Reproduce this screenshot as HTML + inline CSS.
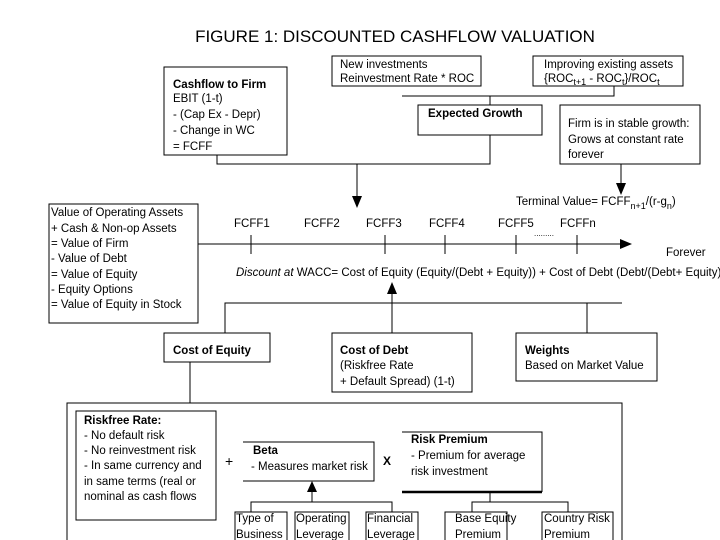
<!DOCTYPE html>
<html><head><style>
html,body{margin:0;padding:0;background:#fff;}
svg{display:block;}
text{font-family:"Liberation Sans",Arial,sans-serif;font-size:11.5px;fill:#000;}
.b{font-weight:bold;}
</style></head><body>
<svg width="720" height="540" viewBox="0 0 720 540" xmlns="http://www.w3.org/2000/svg">
<g fill="none" stroke="#000" stroke-width="1">
<text x="395" y="42" text-anchor="middle" style="font-size:17px" stroke="none">FIGURE 1: DISCOUNTED CASHFLOW VALUATION</text>
<rect x="164" y="67" width="123" height="88"/>
<rect x="332" y="56" width="149" height="30"/>
<rect x="533" y="56" width="150" height="30"/>
<path d="M402 96H614V86M490 96V105"/>
<rect x="418" y="105" width="124" height="30"/>
<rect x="560" y="105" width="140" height="59"/>
<path d="M217 155V164H490V135M357 164V198M621 164V186"/>
<rect x="49" y="204" width="149" height="119"/>
<path d="M198 244H622M251 235V254M385 235V254M445 235V254M516 235V254M577 235V254"/>
<path d="M392 333V292M225 333V303H622M587 303V333"/>
<rect x="164" y="333" width="106" height="29"/>
<rect x="332" y="333" width="140" height="59"/>
<rect x="516" y="333" width="141" height="48"/>
<path d="M190 362V403"/>
<rect x="67" y="403" width="555" height="150"/>
<rect x="76" y="411" width="140" height="109"/>
<path d="M243 442H374V481H243"/>
<path d="M402 432H542V492"/>
<path d="M402 492H542" stroke-width="2.5"/>
<path d="M312 502V490M251 512V502H392V512"/>
<path d="M490 492V502M472 512V502H568V512"/>
<rect x="235" y="512" width="52" height="40"/>
<rect x="295" y="512" width="54" height="40"/>
<rect x="366" y="512" width="52" height="40"/>
<rect x="445" y="512" width="62" height="40"/>
<rect x="542" y="512" width="71" height="40"/>
</g>
<g fill="#000">
<path d="M352 196H362L357 208Z"/>
<path d="M616 183H626L621 195Z"/>
<path d="M620 239V249L632 244Z"/>
<path d="M387 294H397L392 282Z"/>
<path d="M307 492H317L312 481Z"/>
</g>
<text x="173" y="88" class="b">Cashflow to Firm</text>
<text x="173" y="102">EBIT (1-t)</text>
<text x="173" y="118">- (Cap Ex - Depr)</text>
<text x="173" y="134">- Change in WC</text>
<text x="173" y="150">= FCFF</text>
<text x="340" y="68">New investments</text>
<text x="340" y="82">Reinvestment Rate * ROC</text>
<text x="544" y="68">Improving existing assets</text>
<text x="544" y="82">{ROC<tspan style="font-size:9px" dy="3">t+1</tspan><tspan dy="-3"> - ROC</tspan><tspan style="font-size:9px" dy="3">t</tspan><tspan dy="-3">}/ROC</tspan><tspan style="font-size:9px" dy="3">t</tspan></text>
<text x="428" y="117" class="b">Expected Growth</text>
<text x="568" y="127">Firm is in stable growth:</text>
<text x="568" y="143">Grows at constant rate</text>
<text x="568" y="158">forever</text>
<text x="516" y="205">Terminal Value= FCFF<tspan style="font-size:9px" dy="4">n+1</tspan><tspan dy="-4">/(r-g</tspan><tspan style="font-size:9px" dy="4">n</tspan><tspan dy="-4">)</tspan></text>
<text x="51" y="216">Value of Operating Assets</text>
<text x="51" y="232">+ Cash &amp; Non-op Assets</text>
<text x="51" y="247">= Value of Firm</text>
<text x="51" y="262">- Value of Debt</text>
<text x="51" y="278">= Value of Equity</text>
<text x="51" y="293">- Equity Options</text>
<text x="51" y="308">= Value of Equity in Stock</text>
<text x="234" y="227">FCFF1</text>
<text x="304" y="227">FCFF2</text>
<text x="366" y="227">FCFF3</text>
<text x="429" y="227">FCFF4</text>
<text x="498" y="227">FCFF5</text>
<text x="560" y="227">FCFFn</text>
<text x="534" y="236" style="font-size:8px">.........</text>
<text x="666" y="256">Forever</text>
<text x="236" y="276"><tspan font-style="italic">Discount at</tspan>  WACC= Cost of Equity (Equity/(Debt + Equity)) + Cost of Debt (Debt/(Debt+ Equity))</text>
<text x="173" y="354" class="b">Cost of Equity</text>
<text x="340" y="354" class="b">Cost of Debt</text>
<text x="340" y="369">(Riskfree Rate</text>
<text x="340" y="385">+ Default Spread) (1-t)</text>
<text x="525" y="354" class="b">Weights</text>
<text x="525" y="369">Based on Market Value</text>
<text x="84" y="424" class="b">Riskfree Rate:</text>
<text x="84" y="439">- No default risk</text>
<text x="84" y="454">- No reinvestment risk</text>
<text x="84" y="469">- In same currency and</text>
<text x="84" y="485">in same terms (real or</text>
<text x="84" y="500">nominal as cash flows</text>
<text x="225" y="466" style="font-size:14px">+</text>
<text x="253" y="454" class="b">Beta</text>
<text x="251" y="470">- Measures market risk</text>
<text x="383" y="465" class="b" style="font-size:12px">X</text>
<text x="411" y="443" class="b">Risk Premium</text>
<text x="411" y="459">- Premium for average</text>
<text x="411" y="475">risk investment</text>
<text x="236" y="522">Type of</text>
<text x="236" y="538">Business</text>
<text x="296" y="522">Operating</text>
<text x="296" y="538">Leverage</text>
<text x="367" y="522">Financial</text>
<text x="367" y="538">Leverage</text>
<text x="455" y="522">Base Equity</text>
<text x="455" y="538">Premium</text>
<text x="544" y="522">Country Risk</text>
<text x="544" y="538">Premium</text>
</svg>
</body></html>
